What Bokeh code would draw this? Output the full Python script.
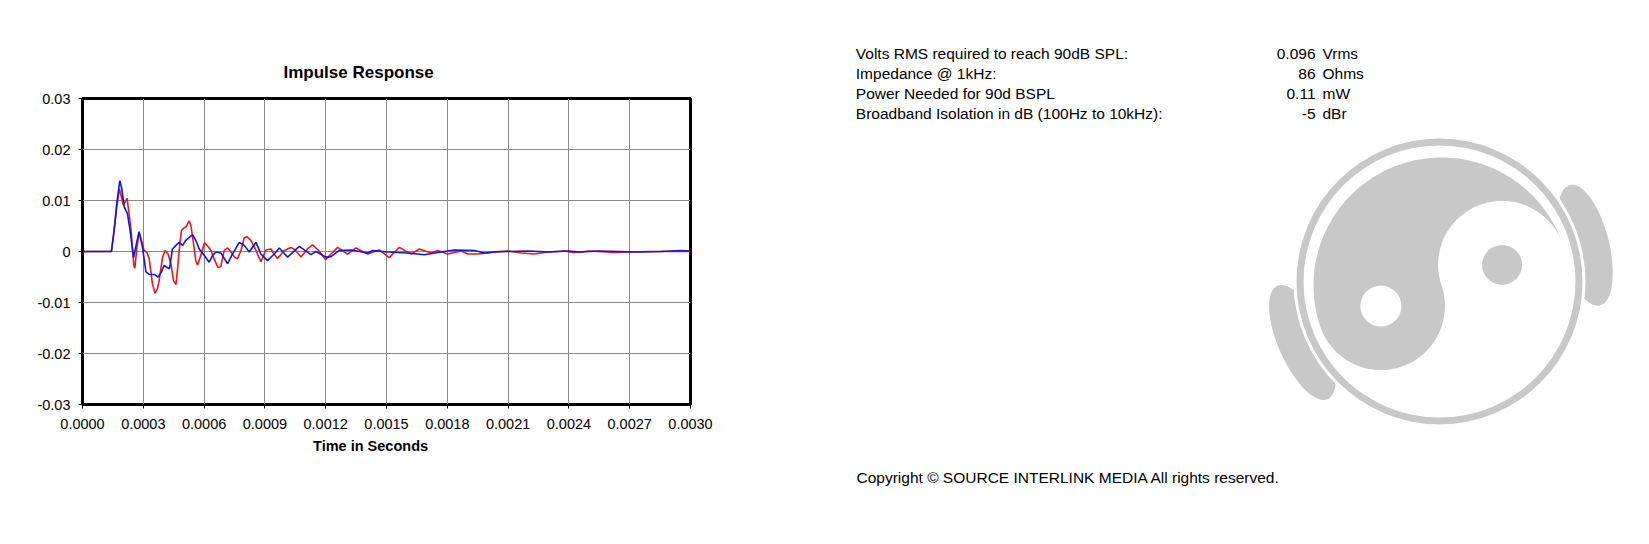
import numpy as np
from bokeh.plotting import figure
from bokeh.models import Range1d, FixedTicker, Title
from bokeh.layouts import row, column
from bokeh.embed import file_html
from bokeh.resources import INLINE
from bokeh.core.properties import value

# ---------------- data ----------------
red_t_us = [0, 140, 143, 156, 169, 182, 202, 220, 238, 253, 258, 268, 279, 292, 304, 317, 329, 345, 358, 370,
            378, 395, 408, 422, 436, 449, 461, 470, 477, 488, 500, 510, 526, 535, 548, 559, 568, 581, 602, 615,
            634, 650, 668, 682, 699, 716, 732, 752, 765, 782, 798, 811, 831, 856, 880, 905, 930, 945, 962, 996,
            1028, 1050, 1078, 1110, 1135, 1165, 1200, 1226, 1259, 1308, 1349, 1407, 1464, 1514, 1563, 1621, 1662,
            1720, 1752, 1802, 1868, 1900, 1950, 2000, 2049, 2098, 2164, 2230, 2296, 2378, 2420, 2460, 2500, 2542,
            2625, 2707, 2789, 2872, 2954, 3000]
red_v_milli = [0, 0, 0.2, 4.1, 8.7, 12.3, 9.1, 10.4, 4.8, -2.6, -3.3, 0.5, 3.8, 2.0, 0.2, -0.1, -1.4, -6.3, -8.2, -7.2,
               -5.7, -1.1, 0.2, -0.5, -2.4, -5.7, -6.5, -3.0, 0.2, 4.1, 4.6, 4.8, 6.0, 5.1, 1.5, -1.8, -2.7, -1.1, 1.7, 1.2,
               0.2, -1.5, -3.1, -3.0, 0.2, 0.7, -0.1, -1.2, -1.4, 0.2, 2.7, 2.9, 2.2, 0.2, -2.0, 0.3, 0.5, -0.5, -1.4, 0.2,
               0.8, 0.3, -1.1, 0.5, 1.3, 0.2, -1.6, -0.5, 0.8, -0.5, 0.7, -0.5, 0.3, -1.2, 0.8, -0.5, 0.5,
               -0.3, 0.2, -0.5, 0.1, -0.5, -0.5, -0.3, 0.0, 0.1, -0.3, -0.5, -0.1, 0.1, -0.2, -0.1, 0.1, 0.0,
               -0.2, -0.1, 0.0, 0.0, 0.0, 0.0]

blue_t_us = [0, 143, 156, 169, 184, 194, 206, 222, 235, 252, 266, 279, 296, 313, 329, 354, 373, 390, 403, 416,
             429, 444, 461, 477, 494, 510, 543, 559, 576, 601, 625, 642, 658, 683, 716, 732, 773, 798, 823, 856,
             880, 913, 946, 971, 1012, 1070, 1127, 1152, 1201, 1226, 1267, 1325, 1407, 1432, 1506, 1604, 1687,
             1769, 1835, 1934, 1983, 2032, 2100, 2200, 2300, 2400, 2450, 2550, 2650, 2750, 2850, 2950, 3000]
blue_v_milli = [0, 0, 4.1, 9.3, 13.9, 12.3, 8.7, 7.4, 4.1, -1.2, 1.5, 3.9, 0.8, -4.0, -4.5, -4.5, -5.0, -4.0, -2.7, -3.1,
                -3.4, 0.5, 1.2, 1.8, 1.2, 2.2, 3.3, 2.2, 0.5, -0.8, -2.1, -0.8, -0.1, -0.3, -2.4, -1.1, 1.8, 1.2, -0.1, 1.8,
                -0.5, -1.8, -0.5, 0.7, -1.1, 1.0, -0.6, 0.0, -1.1, -1.0, 0.2, 0.3, -0.3, 0.2, -0.1, -0.3, -0.65,
                -0.1, 0.3, 0.2, -0.3, -0.1, 0.0, 0.1, -0.1, 0.1, -0.1, 0.1, 0.0, -0.1, 0.0, 0.2, 0.1]

x_ticks = [0.0, 0.0003, 0.0006, 0.0009, 0.0012, 0.0015, 0.0018, 0.0021, 0.0024, 0.0027, 0.003]
x_tick_labels = ["0.0000", "0.0003", "0.0006", "0.0009", "0.0012", "0.0015", "0.0018",
                 "0.0021", "0.0024", "0.0027", "0.0030"]
y_ticks = [-0.03, -0.02, -0.01, 0.0, 0.01, 0.02, 0.03]
y_tick_labels = ["-0.03", "-0.02", "-0.01", "0", "0.01", "0.02", "0.03"]

chart_title = "Impulse Response"
x_title = "Time in Seconds"

spec_labels = ["Volts RMS required to reach 90dB SPL:", "Impedance @ 1kHz:",
               "Power Needed for 90d BSPL", "Broadband Isolation in dB (100Hz to 10kHz):"]
spec_values = ["0.096", "86", "0.11", "-5"]
spec_units = ["Vrms", "Ohms", "mW", "dBr"]
copyright_text = "Copyright \u00a9 SOURCE INTERLINK MEDIA All rights reserved."

FONT = "Liberation Sans"
GRAY = "#c8c8c8"

# ---------------- chart ----------------
red_t = np.array(red_t_us) * 1e-6
red_v = np.array(red_v_milli) * 1e-3
blue_t = np.array(blue_t_us) * 1e-6
blue_v = np.array(blue_v_milli) * 1e-3

p = figure(width=760, height=540, x_range=Range1d(0, 0.003), y_range=Range1d(-0.03, 0.03),
           output_backend="svg", toolbar_location=None,
           min_border_left=82, min_border_right=70, min_border_top=98, min_border_bottom=136)
p.background_fill_color = "white"
p.border_fill_color = "white"
p.outline_line_color = "black"
p.outline_line_width = 3

p.title.text = chart_title
p.title.align = "left"
p.title.offset = 201
p.title.text_font = FONT
p.title.text_font_size = "17px"
p.title.text_font_style = "bold"
p.title.text_color = "black"
p.title.standoff = 34

p.xaxis.ticker = FixedTicker(ticks=x_ticks)
p.xaxis.major_label_overrides = dict(zip(x_ticks, x_tick_labels))
p.yaxis.ticker = FixedTicker(ticks=y_ticks)
p.yaxis.major_label_overrides = dict(zip(y_ticks, y_tick_labels))
for ax in (p.xaxis, p.yaxis):
    ax.major_tick_out = 4
    ax.major_tick_in = 0
    ax.minor_tick_line_color = None
    ax.major_tick_line_color = "black"
    ax.axis_line_color = "black"
    ax.major_label_text_font = FONT
    ax.major_label_text_font_size = "14.5px"
    ax.major_label_text_color = "black"
p.xaxis.major_label_standoff = 10
p.yaxis.major_label_standoff = 8

p.add_layout(Title(text=x_title, align="left", offset=230.6, text_font=FONT, text_font_size="14.5px",
                   text_font_style="bold", text_color="black", standoff=8), "below")

p.xgrid.ticker = FixedTicker(ticks=x_ticks)
p.ygrid.ticker = FixedTicker(ticks=y_ticks)
p.grid.grid_line_color = "#8a8a8a"
p.grid.grid_line_width = 1

p.line(red_t, red_v, line_color="#e41a1c", line_width=1.6)
p.line(blue_t, blue_v, line_color="#1414dc", line_width=1.6)

# ---------------- right panel: specs + logo ----------------
W2 = 885
H2 = 540
q = figure(width=W2, height=H2, x_range=Range1d(760, 760 + W2), y_range=Range1d(H2, 0),
           x_axis_type=None, y_axis_type=None, output_backend="svg", toolbar_location=None,
           min_border=0)
q.outline_line_color = None
q.background_fill_color = "white"
q.border_fill_color = "white"

row_y = [53.0, 73.0, 93.0, 113.1]
FS = "15.5px"
q.text(x=[855.3] * 4, y=row_y, text=spec_labels, text_font=value(FONT), text_font_size=FS,
       text_align="left", text_baseline="middle", text_color="black")
q.text(x=[1315] * 4, y=row_y, text=spec_values, text_font=value(FONT), text_font_size=FS,
       text_align="right", text_baseline="middle", text_color="black")
q.text(x=[1322] * 4, y=row_y, text=spec_units, text_font=value(FONT), text_font_size=FS,
       text_align="left", text_baseline="middle", text_color="black")
q.text(x=[856], y=[476.5], text=[copyright_text], text_font=value(FONT), text_font_size=FS,
       text_align="left", text_baseline="middle", text_color="black")

# logo (decoration)
C = np.array([1439.0, 281.0])


def cup(center_deg, dist, a_len, b_len):
    th = np.deg2rad(center_deg)
    u = np.array([np.cos(th), np.sin(th)])
    t = np.array([-np.sin(th), np.cos(th)])
    e = C + dist * u
    ph = np.linspace(0, 2 * np.pi, 160)
    pts = e[None, :] + a_len * np.cos(ph)[:, None] * t[None, :] + b_len * np.sin(ph)[:, None] * u[None, :]
    return pts[:, 0], pts[:, 1]


for cd in (156.0, -14.0):
    cx, cy = cup(cd, 150, 62, 24)
    q.patch(cx, cy, fill_color=GRAY, line_color=None)

q.circle(x=[C[0]], y=[C[1]], radius=146, fill_color="white", line_color=None)
q.annulus(x=[C[0]], y=[C[1]], inner_radius=136, outer_radius=143, fill_color=GRAY, line_color=None)

O = np.array([1441.0, 285.0])
R = 128.0
a = np.array([0.947, -0.322])
a = a / np.linalg.norm(a)
n = np.array([a[1], -a[0]])
phi = np.linspace(0, np.pi, 160)
big = O + R * (np.cos(phi)[:, None] * a + np.sin(phi)[:, None] * n)
psi1 = np.linspace(np.pi, 2 * np.pi, 100)
s1 = O - (R / 2) * a + (R / 2) * (np.cos(psi1)[:, None] * a + np.sin(psi1)[:, None] * n)
psi2 = np.linspace(np.pi, 0, 100)
s2 = O + (R / 2) * a + (R / 2) * (np.cos(psi2)[:, None] * a + np.sin(psi2)[:, None] * n)
yy = np.vstack([big, s1, s2])
q.patch(yy[:, 0], yy[:, 1], fill_color=GRAY, line_color=None)
wd = O - (R / 2) * a
gd = O + (R / 2) * a
q.circle(x=[wd[0]], y=[wd[1]], radius=20.5, fill_color="white", line_color=None)
q.circle(x=[gd[0]], y=[gd[1]], radius=20, fill_color=GRAY, line_color=None)

layout = row(column(p), column(q))
open("out.html", "w").write(file_html(layout, INLINE))
